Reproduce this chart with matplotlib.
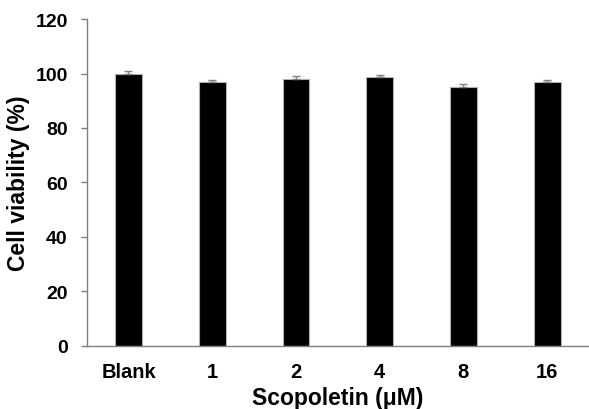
import matplotlib
matplotlib.use('Agg')
import matplotlib.pyplot as plt
import numpy as np

# data
groups = ['Blank', '1', '2', '4', '8', '16']
viability = [99.9, 96.9, 97.9, 98.8, 95.2, 97.0]
sd = [1.2, 0.9, 1.3, 0.6, 1.0, 0.7]
yticks = [0, 20, 40, 60, 80, 100, 120]

plt.rcParams['font.family'] = ['Liberation Sans', 'DejaVu Sans']
plt.rcParams['font.weight'] = 'bold'

fig = plt.figure(figsize=(5.89, 4.10), dpi=100)
ax = fig.add_axes([0.147, 0.1544, 0.853, 0.7966])

x = np.arange(len(groups))
ax.bar(x, viability, width=0.32, color='black', edgecolor='#b0b0b0',
       linewidth=0.8, zorder=2)
ax.errorbar(x, viability, yerr=[np.zeros(len(sd)), sd], fmt='none',
            ecolor='#808080', elinewidth=1, capsize=2.8, capthick=1, zorder=3)

ax.set_xlim(-0.5, len(groups) - 0.5)
ax.set_ylim(0, 120)
ax.set_yticks(yticks)
ax.set_xticks(x)
ax.set_xticklabels(groups)

for side in ['top', 'right']:
    ax.spines[side].set_visible(False)
for side in ['left', 'bottom']:
    ax.spines[side].set_color('#7f7f7f')
    ax.spines[side].set_linewidth(1)

ax.tick_params(axis='y', direction='out', length=4.5, width=1,
               color='#7f7f7f', pad=9, labelsize=14)
ax.tick_params(axis='x', length=0, pad=12, labelsize=14.5)
for lab in ax.get_xticklabels() + ax.get_yticklabels():
    lab.set_fontweight('bold')

ax.set_ylabel('Cell viability (%)', fontsize=16.5, fontweight='bold', labelpad=4)
ax.set_xlabel('Scopoletin (μM)', fontsize=16.5, fontweight='bold', labelpad=3)

plt.savefig('out.png', dpi=100)
plt.close()
